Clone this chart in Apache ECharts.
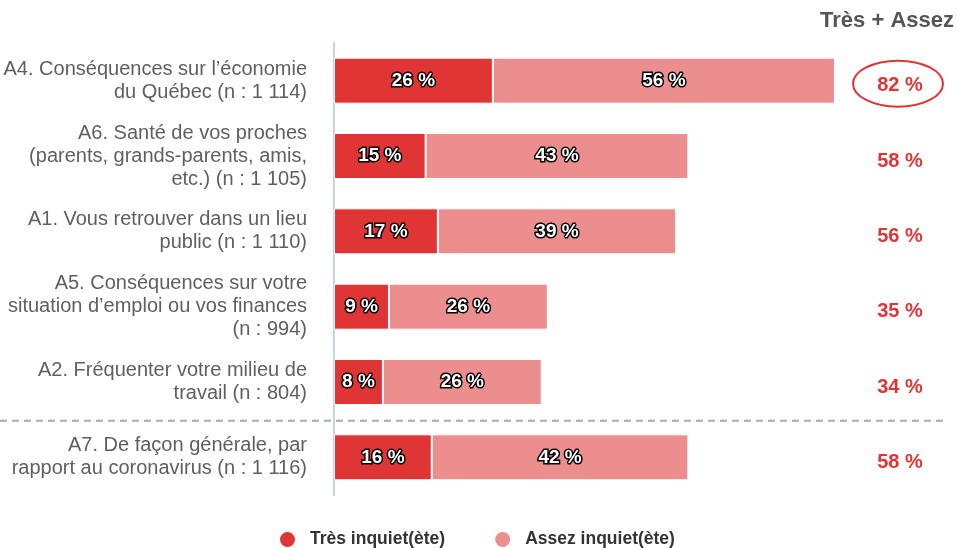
<!DOCTYPE html>
<html>
<head>
<meta charset="utf-8">
<style>
  html, body { margin: 0; padding: 0; background: #fff; }
  #chart { width: 957px; height: 548px; }
</style>
<script src="https://cdn.jsdelivr.net/npm/echarts@6/dist/echarts.min.js"></script>
</head>
<body>
<div id="chart"></div>
<script>
// catégories (de haut en bas)
const categories = [
  "A4. Conséquences sur l’économie\ndu Québec (n : 1 114)",
  "A6. Santé de vos proches\n(parents, grands-parents, amis,\netc.) (n : 1 105)",
  "A1. Vous retrouver dans un lieu\npublic (n : 1 110)",
  "A5. Conséquences sur votre\nsituation d’emploi ou vos finances\n(n : 994)",
  "A2. Fréquenter votre milieu de\ntravail (n : 804)",
  "A7. De façon générale, par\nrapport au coronavirus (n : 1 116)"
];
const tres = [26, 15, 17, 9, 8, 16];
const assez = [56, 43, 39, 26, 26, 42];
const totals = [82, 58, 56, 35, 34, 58];

const RED = "#e03535";
const PINK = "#ec8e8e";
const FONT = "Liberation Sans, Arial, sans-serif";

const chart = echarts.init(document.getElementById("chart"));

const barLabel = {
  show: true,
  position: "inside",
  formatter: "{c} %",
  color: "#fff",
  fontFamily: FONT,
  fontWeight: "bold",
  fontSize: 19,
  textBorderColor: "#000",
  textBorderWidth: 3
};

const option = {
  animation: false,
  grid: { left: 334, right: 12, top: 43, bottom: 53, containLabel: false },
  legend: {
    bottom: -6,
    left: 273,
    itemGap: 48,
    icon: "circle",
    itemWidth: 17,
    itemHeight: 17,
    textStyle: { fontFamily: FONT, fontSize: 17.5, fontWeight: "bold", color: "#333", padding: [0, 0, 0, 9] },
    data: ["Très inquiet(ète)", "Assez inquiet(ète)"]
  },
  xAxis: {
    type: "value",
    min: 0,
    max: 100,
    show: false
  },
  yAxis: [
    {
      type: "category",
      inverse: true,
      data: categories,
      axisLine: { show: true, lineStyle: { color: "#c9d1ea", width: 2 } },
      axisTick: { show: false },
      axisLabel: {
        margin: 27,
        color: "#5f5f5f",
        fontFamily: FONT,
        fontSize: 20,
        lineHeight: 23,
        align: "right"
      }
    },
    {
      type: "category",
      inverse: true,
      position: "right",
      offset: -45,
      data: totals.map(v => v + " %"),
      axisLine: { show: false },
      axisTick: { show: false },
      axisLabel: {
        margin: 0,
        align: "center",
        color: RED,
        fontFamily: FONT,
        fontSize: 20,
        fontWeight: "bold",
        lineHeight: 10,
        // une ligne vide au-dessus pour descendre un peu le total
        formatter: v => "\n" + v
      }
    }
  ],
  series: [
    {
      name: "Très inquiet(ète)",
      type: "bar",
      stack: "total",
      data: tres,
      barWidth: 46,
      itemStyle: { color: RED, borderColor: "#fff", borderWidth: 1 },
      label: barLabel
    },
    {
      name: "Assez inquiet(ète)",
      type: "bar",
      stack: "total",
      data: assez,
      barWidth: 46,
      itemStyle: { color: PINK, borderColor: "#fff", borderWidth: 1 },
      label: barLabel
    }
  ]
};

chart.setOption(option);

// éléments décoratifs : titre de colonne, ellipse et séparateur
const drawExtras = () => {
  const y0 = chart.convertToPixel({ yAxisIndex: 0 }, 0);
  const y4 = chart.convertToPixel({ yAxisIndex: 0 }, 4);
  const y5 = chart.convertToPixel({ yAxisIndex: 0 }, 5);
  const xEnd = chart.convertToPixel({ xAxisIndex: 0 }, 100);
  const cx = 898;
  const sepY = (y4 + y5) / 2 + 1;
  chart.setOption({
    graphic: [
      {
        type: "text",
        right: 3,
        top: 10,
        style: {
          text: "Très + Assez",
          fill: "#555",
          font: "bold 22px " + FONT
        }
      },
      {
        type: "ellipse",
        shape: { cx: cx, cy: y0 + 3, rx: 45, ry: 23 },
        style: { fill: "none", stroke: RED, lineWidth: 2 }
      },
      {
        type: "line",
        shape: { x1: 0, y1: sepY, x2: xEnd, y2: sepY },
        style: { stroke: "#aaa", lineWidth: 2, lineDash: [7, 5] }
      }
    ]
  });
};
drawExtras();
</script>
</body>
</html>
